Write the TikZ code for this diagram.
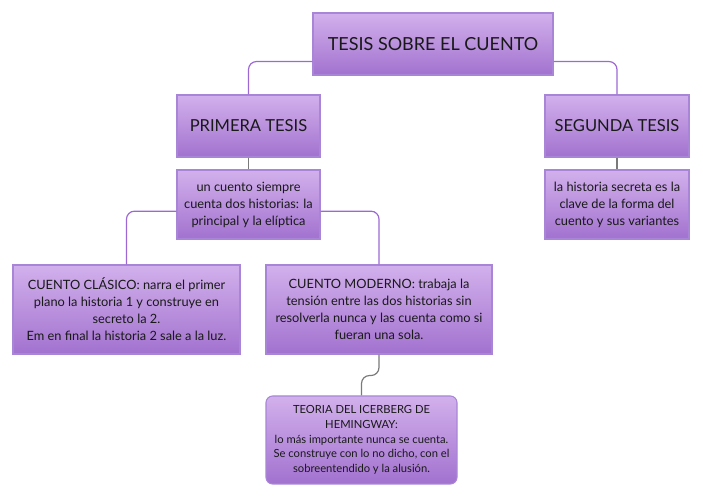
\documentclass[tikz,border=0pt]{standalone}
\usepackage{fontspec}
\setmainfont{Lato}
\usepackage{xcolor}
\usepackage{tikz}
\usetikzlibrary{arrows.meta,positioning}
\definecolor{cttop}{HTML}{D2B0EC}
\definecolor{ctbottom}{HTML}{A272CF}
\definecolor{ctedge}{HTML}{A985D8}
\definecolor{ctline}{HTML}{9B68D4}
\definecolor{ctgray}{HTML}{7A7A7A}

\begin{document}
\begin{tikzpicture}[
    x=0.75pt, y=-0.75pt,
    box/.style={draw=ctedge, line width=0.8pt, top color=cttop, bottom color=ctbottom, inner sep=0pt, align=center, text=black!90},
    head/.style={box, font=\fontsize{12.4}{15}\selectfont, minimum height=46.5pt},
    idea/.style={box, font=\fontsize{9.6}{12.8}\selectfont, minimum height=51.75pt},
    link/.style={draw=ctline, line width=0.9pt, rounded corners=6pt},
    stem/.style={draw=ctgray, line width=0.9pt, rounded corners=6pt}
  ]
    \useasboundingbox (0,0) rectangle (703,498);
    \node[head, font=\fontsize{13.5}{16}\selectfont, minimum width=180pt] (tesis) at (433,44) {TESIS SOBRE EL CUENTO};
    \node[head, minimum width=107.25pt] (primera) at (248.5,126) {PRIMERA TESIS};
    \node[head, minimum width=108pt] (segunda) at (617,126) {SEGUNDA TESIS};
    \node[idea, minimum width=107.25pt] (dos) at (248.5,204.5) {un cuento siempre\\cuenta dos historias: la\\principal y la elíptica};
    \node[idea, minimum width=108pt] (clave) at (617,204.5) {la historia secreta es la\\clave de la forma del\\cuento y sus variantes};
    \node[idea, minimum width=170.25pt, minimum height=66.75pt] (clasico) at (126.5,309.5) {CUENTO CLÁSICO: narra el primer\\plano la historia 1 y construye en\\secreto la 2.\\Em en final la historia 2 sale a la luz.};
    \node[idea, minimum width=169.5pt, minimum height=66.75pt] (moderno) at (379,309.5) {CUENTO MODERNO: trabaja la\\tensión entre las dos historias sin\\resolverla nunca y las cuenta como si\\fueran una sola.};
    \node[box, rounded corners=5pt, font=\fontsize{8.4}{11}\selectfont, minimum width=143.25pt, minimum height=66pt] (iceberg) at (361.5,440) {TEORIA DEL ICERBERG DE\\HEMINGWAY:\\lo más importante nunca se cuenta.\\Se construye con lo no dicho, con el\\sobreentendido y la alusión.};
    % connectors
    \draw[link] ([yshift=10.5pt]tesis.south west) -| (primera);
    \draw[link] ([yshift=10.5pt]tesis.south east) -| (segunda);
    \draw[stem] (primera) -- (dos);
    \draw[stem] (segunda) -- (clave);
    \draw[link] ([yshift=-5pt]dos.west) -| (clasico);
    \draw[link] ([yshift=-5pt]dos.east) -| (moderno);
    \draw[stem] (moderno.south) -- ++(0,21) -| (iceberg);
  \end{tikzpicture}
\end{document}
